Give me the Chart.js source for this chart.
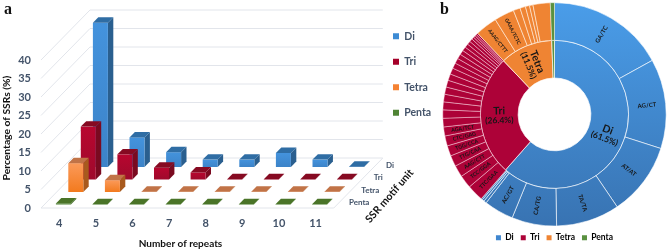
<!DOCTYPE html>
<html lang="en">
<head>
<meta charset="UTF-8">
<title>SSR motifs</title>
<script src="https://cdnjs.cloudflare.com/ajax/libs/Chart.js/4.4.1/chart.umd.js"></script>
<style>
    html, body { margin: 0; padding: 0; background: #fff; overflow: hidden; }
    #page { position: relative; width: 669px; height: 252px; }
    canvas { position: absolute; top: 0; }
    .tag { position: absolute; top: 0; font: bold 16px "Liberation Serif", serif; color: #111; }
</style>
</head>
<body>
<div id="page">
    <canvas id="bars" width="440" height="252" style="left:0"></canvas>
    <canvas id="rings" width="229" height="252" style="left:440px"></canvas>
    <span class="tag" style="left:4px">a</span>
    <span class="tag" style="left:440px">b</span>
</div>
<script>
    // panel a
    const repeats = ["4", "5", "6", "7", "8", "9", "10", "11"];
    const seriesNames = ["Di", "Tri", "Tetra", "Penta"];
    const diShare = [39, 8, 4, 2, 2, 3.8, 2, 0.1];
    const triShare = [14.3, 6.8, 3.2, 1.9, 0.1, 0.1, 0.1, 0.1];
    const tetraShare = [7.8, 3.2, 0.1, 0.1, 0.1, 0.1, 0.1, 0.1];
    const pentaShare = [0.3, 0.1, 0.1, 0.1, 0.1, 0.1, 0.1, 0.1];
    const yTicksMax = 40;

    // panel b
    const groupShare = [61.5, 26.4, 11.5, 0.6];
    const diMotifs = ["GA/TC", "AG/CT", "AT/AT", "TA/TA", "CA/TG", "AC/GT", "", "", ""];
    const diMotifShare = [17, 13, 10.6, 9.2, 6.5, 4.3, 0.4, 0.3, 0.2];
    const triMotifs = ["TTC/GAA", "TCC/GGA", "AAG/CTT", "TTG/CAA", "TGG/CCA", "CTC/GAG", "AGA/TCT",
        "", "", "", "", "", "", "", "", "", "", "", "", "", "", "", "", "", "", "", ""];
    const triMotifShare = [2.4, 1.9, 1.7, 1.6, 1.5, 1.45, 1.3,
        1.25, 1.2, 1.15, 1.1, 1.05, 1, 0.95, 0.9, 0.8, 0.75, 0.7, 0.65, 0.6, 0.55, 0.5, 0.45, 0.35, 0.3, 0.25, 0.25];
    const tetraMotifs = ["AAAG/CTTT", "GAAA/TCTC", "", "", "", "", ""];
    const tetraMotifShare = [3.2, 2.9, 1, 0.8, 0.6, 0.5, 2.5];
    const pentaMotifs = [""];
    const pentaMotifShare = [0.6];

    const inkBlue = "#44546a";
    const legendFill = ["#3d8bd4", "#a50029", "#f58233", "#4f8434"];
    const frontTop = ["#4493dd", "#b8062f", "#fb9a5a", "#4f8434"];
    const frontBottom = ["#3c83c8", "#9e0a2c", "#f27a1e", "#4f8434"];
    const sideFill = ["#2a5f8f", "#7a0a20", "#a85a1e", "#3f6a26"];
    const topFill = ["#2f6da4", "#860a22", "#c17347", "#4a7428"];
    const rowShiftX = [41.1, 29, 16.5, 4.1];
    const rowShiftY = [-41, -28.5, -16, -3.5];
    const wallX = 49, wallY = -50, capDepth = 5.4;

    const labelFont = '"Lato", sans-serif';

    const box3d = {
        id: "box3d",
        afterLayout(chart) {
            // legend sits well clear of the floor, so move its box after layout
            const lg = chart.legend;
            lg.left = 378;
            lg.right = 378 + lg.width;
            lg.top = 16;
            lg.bottom = 16 + lg.height;
        },
        beforeDatasetsDraw(chart) {
            const { ctx, chartArea: a, scales: { y } } = chart;
            ctx.save();
            ctx.strokeStyle = "#e2e5eb";
            ctx.lineWidth = 1;
            const line = (x0, y0, x1, y1) => {
                ctx.beginPath(); ctx.moveTo(x0, y0); ctx.lineTo(x1, y1); ctx.stroke();
            };
            y.ticks.forEach(t => {
                const py = y.getPixelForValue(t.value);
                line(a.left, py, a.left + wallX, py + wallY);
                line(a.left + wallX, py + wallY, a.right + wallX, py + wallY);
            });
            const y0 = y.getPixelForValue(0);
            line(a.left, y0, a.right, y0);
            line(a.right, y0, a.right + wallX, y0 + wallY);
            ctx.restore();
        },
        beforeDatasetDraw(chart, args) {
            const { ctx } = chart;
            const i = args.index;
            const poly = (pts, fill) => {
                ctx.fillStyle = fill;
                ctx.beginPath();
                pts.forEach((p, k) => k ? ctx.lineTo(p[0], p[1]) : ctx.moveTo(p[0], p[1]));
                ctx.closePath();
                ctx.fill();
            };
            args.meta.data.forEach(el => {
                const x0 = el.x - el.width / 2 + rowShiftX[i];
                const x1 = x0 + el.width;
                const yt = el.y + rowShiftY[i];
                const yb = el.base + rowShiftY[i];
                const d = capDepth;
                const g = ctx.createLinearGradient(0, yt, 0, yb);
                g.addColorStop(0, frontTop[i]);
                g.addColorStop(1, frontBottom[i]);
                poly([[x1, yt], [x1 + d, yt - d], [x1 + d, yb - d], [x1, yb]], sideFill[i]);
                poly([[x0, yb], [x1, yb], [x1, yt], [x0, yt]], g);
                poly([[x0, yt], [x1, yt], [x1 + d, yt - d], [x0 + d, yt - d]], topFill[i]);
            });
            return false;
        },
        afterDraw(chart) {
            const { ctx, chartArea: a, scales: { y } } = chart;
            const y0 = y.getPixelForValue(0);
            ctx.save();
            ctx.fillStyle = inkBlue;
            ctx.font = "bold 8px " + labelFont;
            ctx.textAlign = "left";
            ctx.textBaseline = "middle";
            seriesNames.forEach((name, i) => {
                ctx.fillText(name, a.right + rowShiftX[i] + 11, y0 + rowShiftY[i] - 2);
            });
            ctx.fillStyle = "#111";
            ctx.textAlign = "center";
            ctx.font = "bold 10px " + labelFont;
            ctx.fillText("Number of repeats", 180.5, 244);
            ctx.save();
            ctx.translate(7, 128);
            ctx.rotate(-Math.PI / 2);
            ctx.font = "bold 10.3px " + labelFont;
            ctx.fillText("Percentage of SSRs (%)", 0, 0);
            ctx.restore();
            ctx.font = "bold 10.5px " + labelFont;
            ctx.translate(389.5, 196);
            ctx.rotate(-49 * Math.PI / 180);
            ctx.fillText("SSR motif unit", 0, 0);
            ctx.restore();
        }
    };

    new Chart("bars", {
        type: "bar",
        data: {
            labels: repeats,
            datasets: [diShare, triShare, tetraShare, pentaShare].map((vals, i) => ({
                label: seriesNames[i],
                data: vals,
                order: 4 - i,
                backgroundColor: legendFill[i],
                categoryPercentage: 1,
                barPercentage: 0.41
            }))
        },
        options: {
            responsive: false,
            animation: false,
            layout: { padding: { top: 60, right: 43 } },
            plugins: {
                tooltip: { enabled: false },
                legend: {
                    position: "right",
                    align: "start",
                    reverse: true,
                    onClick: null,
                    labels: {
                        boxWidth: 6, boxHeight: 6, padding: 15,
                        color: inkBlue,
                        font: { family: labelFont, size: 10.5, weight: "bold" }
                    }
                }
            },
            scales: {
                x: {
                    stacked: true,
                    afterFit(s) { s.height = 44; },
                    grid: { display: false, drawTicks: false },
                    border: { display: false },
                    ticks: { padding: 9, color: inkBlue, maxRotation: 0, font: { family: labelFont, size: 11, weight: "bold" } }
                },
                y: {
                    min: 0,
                    max: yTicksMax,
                    afterFit(s) { s.width = 41; },
                    grid: { display: false, drawTicks: false },
                    border: { display: false },
                    ticks: { stepSize: 5, padding: 10, color: inkBlue, font: { family: labelFont, size: 11, weight: "bold" } }
                }
            }
        },
        plugins: [box3d]
    });

    // panel b: outer ring is every motif, inner ring the four groups
    const motifLabels = [...diMotifs, ...triMotifs, ...tetraMotifs, ...pentaMotifs];
    const motifShare = [...diMotifShare, ...triMotifShare, ...tetraMotifShare, ...pentaMotifShare];
    const motifGroup = [
        ...diMotifs.map(() => 0), ...triMotifs.map(() => 1),
        ...tetraMotifs.map(() => 2), ...pentaMotifs.map(() => 3)
    ];
    const ringFlat = ["#3f86cf", "#ad0238", "#ef8433", "#5a9140"];
    const motifTextSize = [6, 5.3, 5, 5];
    const motifEdge = ["rgba(255,255,255,0.75)", "rgba(255,225,235,0.55)", "rgba(255,240,225,0.75)", "rgba(255,255,255,0.5)"];

    function ringFill(group, chart) {
        const a = chart.chartArea;
        if (group !== 0 || !a) return ringFlat[group];
        const g = chart.ctx.createLinearGradient(0, a.top, 0, a.bottom);
        g.addColorStop(0, "#4a9de9");
        g.addColorStop(1, "#3873b2");
        return g;
    }

    const ringText = {
        id: "ringText",
        afterDatasetsDraw(chart) {
            const { ctx } = chart;
            const place = (el, lines) => {
                const mid = (el.startAngle + el.endAngle) / 2;
                const p = el.getCenterPoint();
                let rot = mid;
                if (Math.cos(mid) < 0) rot += Math.PI;
                ctx.save();
                ctx.translate(p.x, p.y);
                ctx.rotate(rot);
                ctx.textAlign = "center";
                ctx.textBaseline = "middle";
                ctx.fillStyle = "#161616";
                lines.forEach(l => {
                    ctx.font = "bold " + l.size + "px " + labelFont;
                    ctx.fillText(l.text, 0, l.dy);
                });
                ctx.restore();
            };
            chart.getDatasetMeta(0).data.forEach((el, i) => {
                if (motifLabels[i]) place(el, [{ text: motifLabels[i], size: motifTextSize[motifGroup[i]], dy: 0 }]);
            });
            chart.getDatasetMeta(1).data.forEach((el, i) => {
                if (i < 3) place(el, [
                    { text: seriesNames[i], size: 10.5, dy: -4.5 },
                    { text: "(" + groupShare[i] + "%)", size: 8.5, dy: 5 }
                ]);
            });
        }
    };

    new Chart("rings", {
        type: "doughnut",
        data: {
            labels: motifLabels,
            datasets: [
                {
                    data: motifShare,
                    backgroundColor: c => ringFill(motifGroup[c.dataIndex], c.chart),
                    borderColor: c => motifEdge[motifGroup[c.dataIndex]],
                    borderWidth: 0.8
                },
                {
                    data: groupShare,
                    backgroundColor: c => ringFill(c.dataIndex, c.chart),
                    borderColor: "rgba(255,255,255,0.85)",
                    borderWidth: 0.8
                }
            ]
        },
        options: {
            responsive: false,
            animation: false,
            cutout: "32.6%",
            layout: { padding: { top: 2.3, left: 1, right: 1 } },
            plugins: {
                tooltip: { enabled: false },
                legend: {
                    position: "bottom",
                    onClick: null,
                    labels: {
                        boxWidth: 5, boxHeight: 5, padding: 7,
                        color: inkBlue,
                        font: { family: labelFont, size: 8.5, weight: "bold" },
                        generateLabels: () => seriesNames.map((name, i) => ({
                            text: name, fillStyle: ringFlat[i], strokeStyle: ringFlat[i], lineWidth: 0, index: i
                        }))
                    }
                }
            }
        },
        plugins: [ringText]
    });
</script>
</body>
</html>
